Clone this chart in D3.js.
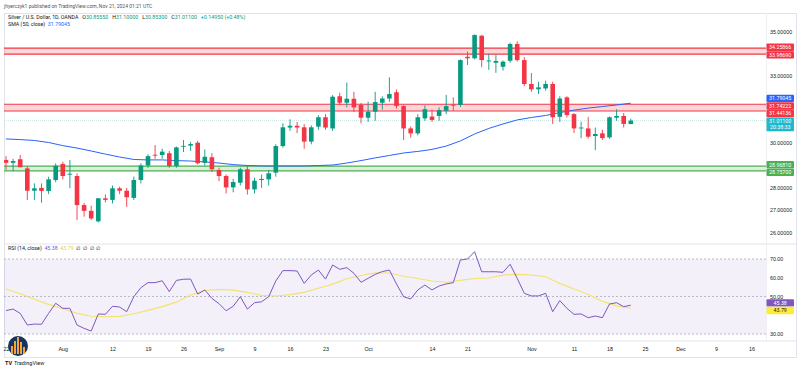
<!DOCTYPE html>
<html>
<head>
<meta charset="utf-8">
<script src="https://cdn.jsdelivr.net/npm/d3@7"></script>
<style>
body{margin:0;background:#fff;}
svg{display:block;font-family:Roboto,"Noto Sans",sans-serif;}
</style>
</head>
<body>
<div id="plot"></div>
<script>
// daily candles, Jul 22 -> Nov 21 2024 (bar index 0..88)
var opens  = [29.25,29.12,29.28,28.87,27.87,28.00,27.86,28.35,29.07,28.60,
              28.53,27.23,26.97,26.50,27.53,27.46,27.98,27.87,27.55,28.35,
              29.00,29.48,29.47,29.55,28.98,29.85,29.89,30.02,29.12,29.37,
              28.80,28.53,28.02,28.23,28.83,27.93,28.35,28.38,28.68,29.87,
              30.70,30.78,30.71,30.07,30.74,31.16,30.66,32.10,31.81,31.99,
              31.71,31.14,31.41,31.81,32.00,32.28,31.66,30.66,30.44,31.11,
              31.19,31.22,31.45,31.72,31.71,33.87,33.80,34.81,33.68,33.60,
              33.42,33.69,34.44,33.72,32.65,32.41,32.45,32.65,31.18,32.05,
              31.30,30.66,30.66,30.32,30.44,30.26,31.14,31.22,30.8555];
var highs  = [29.42,29.30,29.47,28.95,28.20,28.20,28.50,29.10,29.17,29.25,
              28.65,27.33,27.20,27.55,27.70,28.10,28.05,28.00,28.50,29.10,
              29.50,29.92,29.75,29.65,29.85,30.14,30.05,30.10,29.72,29.55,
              28.90,28.60,28.40,28.90,29.00,28.45,28.60,28.80,29.95,30.89,
              31.07,30.95,30.85,30.80,31.25,31.30,32.15,32.26,32.71,32.30,
              31.80,31.86,32.30,32.10,32.95,32.40,31.70,30.75,31.30,31.70,
              31.50,31.60,32.16,32.05,33.75,34.10,34.87,34.85,34.00,33.95,
              33.70,34.50,34.56,33.85,33.14,32.75,32.80,32.75,32.10,32.10,
              31.35,30.96,31.18,30.70,30.60,31.20,31.52,31.35,31.10];
var lows   = [28.80,28.75,28.95,27.45,27.45,27.33,27.72,28.25,28.38,27.98,
              26.56,26.71,26.56,26.45,27.35,27.30,27.72,27.15,27.45,28.20,
              28.90,29.30,29.30,28.90,28.90,29.60,29.65,29.05,29.00,28.70,
              28.30,27.75,27.80,28.10,27.70,27.75,28.00,28.10,28.50,29.80,
              30.55,30.45,29.75,29.95,30.60,30.60,30.55,31.70,31.60,31.40,
              30.89,30.95,31.00,31.50,31.85,31.55,30.14,30.25,30.35,31.00,
              30.95,31.00,31.30,31.45,31.62,33.50,33.75,33.40,33.28,33.15,
              33.25,33.60,33.65,32.55,32.30,32.20,32.35,30.86,30.95,31.15,
              30.46,30.22,30.20,29.69,30.15,30.20,31.00,30.70,30.853];
var closes = [29.12,29.20,28.92,27.87,27.98,27.86,28.38,28.99,28.53,28.63,
              27.23,26.97,26.63,27.53,27.46,27.98,27.87,27.58,28.35,29.00,
              29.42,29.45,29.62,28.98,29.81,29.88,29.96,29.10,29.39,28.83,
              28.53,28.02,28.26,28.83,27.93,28.32,28.40,28.65,29.87,30.71,
              30.78,30.70,30.07,30.71,31.16,30.70,32.08,31.81,31.99,31.60,
              31.14,31.41,31.84,32.00,32.20,31.66,30.66,30.44,31.16,31.52,
              31.04,31.48,31.66,31.68,33.72,33.80,34.84,33.72,33.70,33.68,
              33.65,34.44,33.72,32.65,32.41,32.50,32.65,31.16,32.00,31.26,
              30.66,30.70,30.29,30.41,30.23,31.16,31.22,30.8615,31.011];

// SMA(50) read every second bar
var smaBars = d3.range(0, 89, 2);
var smaVals = [30.19,30.16,30.12,30.03,29.89,29.78,29.65,29.51,29.38,29.27,
               29.25,29.25,29.22,29.20,29.16,29.11,29.04,29.00,28.98,28.98,
               28.98,28.98,29.00,29.02,29.11,29.22,29.34,29.45,29.56,29.63,
               29.72,29.87,30.10,30.41,30.66,30.86,31.04,31.15,31.24,31.37,
               31.48,31.57,31.64,31.71,31.79045];

// RSI(14) per bar, and its MA every second bar
var rsiVals = [42.5,43.3,41.0,34.8,35.3,35.2,41.0,46.4,43.7,43.7,
               34.8,33.0,31.6,40.7,40.5,44.8,44.4,41.9,49.9,54.7,
               57.4,57.4,58.4,52.6,58.6,59.2,59.3,51.3,53.5,49.0,
               46.2,42.4,44.8,49.9,43.3,46.7,47.2,49.9,58.3,63.8,
               63.8,63.6,57.0,61.5,64.1,59.3,66.8,64.5,65.4,62.4,
               57.6,59.7,61.8,63.3,64.1,56.7,49.9,48.7,53.5,56.1,
               53.5,55.6,56.7,57.4,69.5,70.0,73.9,63.2,63.2,63.2,
               62.9,67.2,59.7,51.7,50.3,50.3,51.7,41.9,47.8,43.7,
               40.5,40.7,38.7,39.6,38.7,46.0,46.7,44.6,45.38];
var rsiMaBars = d3.range(0, 89, 2);
var rsiMaVals = [54.0,51.5,48.5,45.8,43.5,41.0,39.5,39.2,39.4,40.8,
                 42.6,44.6,47.0,50.8,53.2,53.8,53.4,52.2,50.6,50.3,
                 51.0,52.2,54.4,56.6,59.5,61.2,62.6,62.5,60.8,59.6,
                 58.3,57.6,58.6,59.6,59.9,61.4,61.8,61.5,60.5,57.0,
                 54.0,51.2,47.4,45.0,43.79];

// zones drawn on the chart
var zoneLo = [33.98690, 31.44136, 28.75700];
var zoneHi = [34.25866, 31.74222, 28.96810];
var zoneColor = ['#f23645', '#f23645', '#4caf50'];

var priceTicks = [26, 27, 28, 30, 33, 35];
var rsiTicks = [30, 50, 60, 70];
var rsiLevels = [30, 50, 70];
var timeTickBars = [0, 8, 15, 20, 25, 30, 35, 40, 45, 51, 60, 65, 74, 80, 85, 90, 95, 100, 105];
var timeTickLabels = ['22','Aug','12','19','26','Sep','9','16','23','Oct','14','21','Nov','11','18','25','Dec','9','16'];

var W = 800, H = 370;
var L = 4, R = 766;
var mainTop = 13, mainBot = 243, rsiTop = 245, rsiBot = 340;
var up = '#089981', down = '#f23645';
var fs = '5.3px';

var svg = d3.select('#plot').append('svg')
	.attr('width', W)
	.attr('height', H);

var x = d3.scaleLinear().domain([0, 105]).range([6, 6 + 105 * 7.1]);
var y = d3.scaleLinear().domain([26, 35]).range([232.5, 31.5]);
var yr = d3.scaleLinear().domain([30, 70]).range([334, 259]);

var defs = svg.append('defs');
defs.append('clipPath').attr('id', 'clipMain').append('rect')
	.attr('x', L).attr('y', mainTop).attr('width', R - L).attr('height', mainBot - mainTop);
defs.append('clipPath').attr('id', 'clipRsi').append('rect')
	.attr('x', L).attr('y', rsiTop).attr('width', R - L).attr('height', rsiBot - rsiTop);

// frame
svg.append('rect').attr('x', L + 0.5).attr('y', mainTop + 0.5)
	.attr('width', 796 - L).attr('height', 357 - mainTop)
	.attr('fill', 'none').attr('stroke', '#e0e3eb').attr('stroke-width', 1);
svg.append('line').attr('x1', L).attr('x2', 796).attr('y1', 244).attr('y2', 244)
	.attr('stroke', '#e0e3eb');
svg.append('line').attr('x1', L).attr('x2', 796).attr('y1', 341).attr('y2', 341)
	.attr('stroke', '#e0e3eb');
svg.append('line').attr('x1', R + 0.5).attr('x2', R + 0.5).attr('y1', mainTop).attr('y2', 341)
	.attr('stroke', '#eef0f4');

// ---------- main pane ----------
var main = svg.append('g').attr('clip-path', 'url(#clipMain)');

var zones = main.selectAll('g.zone').data(d3.range(zoneLo.length)).enter().append('g');
zones.append('rect')
	.attr('x', L).attr('width', R - L)
	.attr('y', function(k){ return y(zoneHi[k]); })
	.attr('height', function(k){ return y(zoneLo[k]) - y(zoneHi[k]); })
	.attr('fill', function(k){ return zoneColor[k]; })
	.attr('fill-opacity', 0.2);
zones.selectAll('line').data(function(k){ return [[zoneHi[k], k], [zoneLo[k], k]]; }).enter().append('line')
	.attr('x1', L).attr('x2', R)
	.attr('y1', function(d){ return y(d[0]); })
	.attr('y2', function(d){ return y(d[0]); })
	.attr('stroke', function(d){ return zoneColor[d[1]]; })
	.attr('stroke-width', 1.2);

// last price line
main.append('line')
	.attr('x1', L).attr('x2', R)
	.attr('y1', y(closes[closes.length - 1])).attr('y2', y(closes[closes.length - 1]))
	.attr('stroke', '#a6dcd3').attr('stroke-opacity', 0.6)
	.attr('stroke-dasharray', '1,1');

// sma
main.append('path')
	.datum(smaBars)
	.attr('fill', 'none')
	.attr('stroke', '#2962ff')
	.attr('stroke-width', 1)
	.attr('d', d3.line().x(function(b){ return x(b); }).y(function(b, k){ return y(smaVals[k]); }));

// candles
var bars = d3.range(opens.length);
var col = function(i){ return closes[i] >= opens[i] ? up : down; };
var bw = 4.6;
main.selectAll('line.wick').data(bars).enter().append('line')
	.attr('class', 'wick')
	.attr('x1', function(i){ return x(i); })
	.attr('x2', function(i){ return x(i); })
	.attr('y1', function(i){ return y(highs[i]); })
	.attr('y2', function(i){ return y(lows[i]); })
	.attr('stroke', col)
	.attr('stroke-width', 0.9);
main.selectAll('rect.body').data(bars).enter().append('rect')
	.attr('class', 'body')
	.attr('x', function(i){ return x(i) - bw / 2; })
	.attr('width', bw)
	.attr('y', function(i){ return y(Math.max(opens[i], closes[i])); })
	.attr('height', function(i){ return Math.max(0.9, Math.abs(y(opens[i]) - y(closes[i]))); })
	.attr('fill', col);

// price axis
var pa = svg.append('g').attr('transform', 'translate(' + R + ',0)')
	.call(d3.axisRight(y).tickValues(priceTicks).tickFormat(d3.format('.5f')).tickSize(0).tickPadding(4));
pa.select('.domain').remove();
pa.selectAll('text').style('font-size', fs).attr('fill', '#131722');

// ---------- rsi pane ----------
var rsi = svg.append('g').attr('clip-path', 'url(#clipRsi)');
rsi.append('rect')
	.attr('x', L).attr('width', R - L)
	.attr('y', yr(70)).attr('height', yr(30) - yr(70))
	.attr('fill', '#7e57c2').attr('fill-opacity', 0.09);
rsi.selectAll('line.lvl').data(rsiLevels).enter().append('line')
	.attr('x1', L).attr('x2', R)
	.attr('y1', function(d){ return yr(d); })
	.attr('y2', function(d){ return yr(d); })
	.attr('stroke', '#a9acb5')
	.attr('stroke-width', 0.8)
	.attr('stroke-dasharray', '2,2');
rsi.append('path')
	.datum(rsiMaBars)
	.attr('fill', 'none')
	.attr('stroke', '#f3e36b')
	.attr('stroke-width', 1.1)
	.attr('d', d3.line().x(function(b){ return x(b); }).y(function(b, k){ return yr(rsiMaVals[k]); }));
rsi.append('path')
	.datum(bars)
	.attr('fill', 'none')
	.attr('stroke', '#7e57c2')
	.attr('stroke-width', 1)
	.attr('d', d3.line().x(function(i){ return x(i); }).y(function(i){ return yr(rsiVals[i]); }));

var ra = svg.append('g').attr('transform', 'translate(' + R + ',0)')
	.call(d3.axisRight(yr).tickValues(rsiTicks).tickFormat(d3.format('.2f')).tickSize(0).tickPadding(4));
ra.select('.domain').remove();
ra.selectAll('text').style('font-size', fs).attr('fill', '#131722');

// ---------- axis badges ----------
function spread(list, h){
	list.sort(function(a, b){ return a.y - b.y; });
	for (var it = 0; it < 60; it++){
		for (var j = 1; j < list.length; j++){
			var d = list[j].y - list[j - 1].y;
			if (d < h){ var s = (h - d) / 2; list[j - 1].y -= s; list[j].y += s; }
		}
	}
	return list;
}
var last = closes.length - 1;
var priceBadges = [
	{v: zoneHi[0], c: zoneColor[0]}, {v: zoneLo[0], c: zoneColor[0]},
	{v: smaVals[smaVals.length - 1], c: '#2962ff'},
	{v: zoneHi[1], c: zoneColor[1]}, {v: zoneLo[1], c: zoneColor[1]},
	{v: closes[last], c: '#1fb8cd', sub: '20:38:33'},
	{v: zoneHi[2], c: zoneColor[2]}, {v: zoneLo[2], c: zoneColor[2]}
].map(function(b){ b.y = y(b.v); b.t = d3.format('.5f')(b.v); return b; });
var rsiBadges = [
	{v: rsiVals[last], c: '#7e57c2', tc: '#fff'},
	{v: rsiMaVals[rsiMaVals.length - 1], c: '#ffeb3b', tc: '#131722'}
].map(function(b){ b.y = yr(b.v); b.t = d3.format('.2f')(b.v); return b; });

var bh = 7.4;
var allBadges = spread(priceBadges, bh + 0.2).concat(spread(rsiBadges, bh + 0.2));
var bg = svg.selectAll('g.badge').data(allBadges).enter().append('g')
	.attr('transform', function(b){ return 'translate(' + (R + 0.5) + ',' + b.y + ')'; });
bg.append('rect')
	.attr('x', 0).attr('y', -bh / 2)
	.attr('width', 27.5)
	.attr('height', function(b){ return b.sub ? bh * 1.85 : bh; })
	.attr('rx', 1)
	.attr('fill', function(b){ return b.c; });
bg.append('text')
	.attr('x', 13.7).attr('dy', '0.35em')
	.attr('text-anchor', 'middle')
	.style('font-size', fs)
	.attr('fill', function(b){ return b.tc || '#fff'; })
	.text(function(b){ return b.t; });
bg.filter(function(b){ return b.sub; }).append('text')
	.attr('x', 13.7).attr('y', 6.3).attr('dy', '0.35em')
	.attr('text-anchor', 'middle')
	.style('font-size', fs)
	.attr('fill', '#fff')
	.text(function(b){ return b.sub; });

// ---------- time axis ----------
var ta = svg.append('g').attr('transform', 'translate(0,347.5)')
	.call(d3.axisBottom(x).tickValues(timeTickBars)
		.tickFormat(function(d, k){ return timeTickLabels[k]; })
		.tickSize(0).tickPadding(0));
ta.select('.domain').remove();
ta.selectAll('text').style('font-size', fs).attr('fill', '#131722');

// ---------- legends ----------
svg.append('text').attr('x', 4).attr('y', 7.6)
	.style('font-size', '5px').attr('fill', '#50535e')
	.text('jhyerczyk1 published on TradingView.com, Nov 21, 2024 01:21 UTC');

var chg = closes[last] - closes[last - 1];
var leg = svg.append('text').attr('x', 8).attr('y', 19)
	.style('font-size', fs).style('white-space', 'pre').attr('fill', '#131722');
var parts = [
	['Silver / U.S. Dollar, 1D, OANDA', '#131722'],
	['   O', '#131722'], [d3.format('.5f')(opens[last]), up],
	['   H', '#131722'], [d3.format('.5f')(highs[last]), up],
	['   L', '#131722'], [d3.format('.5f')(lows[last]), up],
	['   C', '#131722'], [d3.format('.5f')(closes[last]), up],
	['   ' + d3.format('+.5f')(chg) + ' (' + d3.format('+.2%')(chg / closes[last - 1]) + ')', up]
];
leg.selectAll('tspan').data(parts).enter().append('tspan')
	.attr('fill', function(p){ return p[1]; })
	.text(function(p){ return p[0]; });

var leg2 = svg.append('text').attr('x', 8).attr('y', 26)
	.style('font-size', fs).style('white-space', 'pre').attr('fill', '#131722');
leg2.append('tspan').text('SMA (50, close)');
leg2.append('tspan').attr('fill', '#2962ff').text('  ' + d3.format('.5f')(smaVals[smaVals.length - 1]));

var leg3 = svg.append('text').attr('x', 8).attr('y', 250.2)
	.style('font-size', fs).style('white-space', 'pre').attr('fill', '#131722');
leg3.append('tspan').text('RSI (14, close)');
leg3.append('tspan').attr('fill', '#7e57c2').text('  ' + d3.format('.2f')(rsiVals[last]));
leg3.append('tspan').attr('fill', '#e3cf3c').text('  ' + d3.format('.2f')(rsiMaVals[rsiMaVals.length - 1]));
leg3.append('tspan').text('  \u2205  \u2205  \u2205  \u2205');

// ---------- author avatar / logo ----------
var av = svg.append('g').attr('transform', 'translate(18,346)');
av.append('circle').attr('r', 10).attr('fill', '#17345f');
[-6, -3, 0, 3, 6].forEach(function(dx, k){
	var hgt = [8, 13, 17, 12, 7][k];
	av.append('rect').attr('x', dx - 1).attr('y', 10 - hgt - 2).attr('width', 2).attr('height', hgt)
		.attr('fill', '#f2a33a');
});
svg.append('text').attr('x', 5).attr('y', 365)
	.style('font-size', '5.5px').style('font-weight', 700).attr('fill', '#131722')
	.text('TV');
svg.append('text').attr('x', 14).attr('y', 365)
	.style('font-size', '5.5px').attr('fill', '#131722')
	.text('TradingView');
</script>
</body>
</html>
